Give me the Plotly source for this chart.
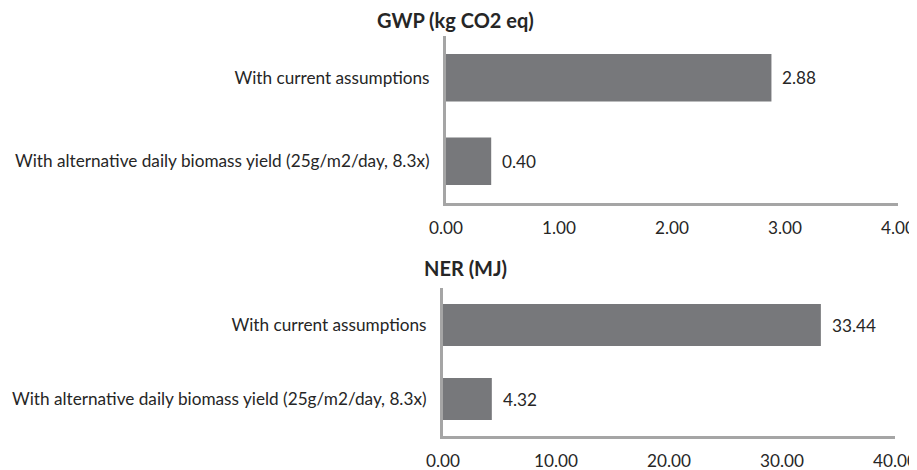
import plotly.graph_objects as go

categories = ["With current assumptions",
              "With alternative daily biomass yield (25g/m2/day, 8.3x)"]
gwp_values = [2.88, 0.40]
ner_values = [33.44, 4.32]
gwp_ticks = [0, 1, 2, 3, 4]
ner_ticks = [0, 10, 20, 30, 40]
gwp_title = "GWP (kg CO2 eq)"
ner_title = "NER (MJ)"

BAR = "#77787b"
AXIS = "#a5a5a5"
TXT = "#262626"
FONT = "Lato"
FS = 17.2

# page body has an 8px default margin; the figure is sized to fill the rest
OFF = 8
W, H = 917 - OFF, 470 - OFF


def px(x):
    return (x - OFF) / W


def py(y):
    return 1 - (y - OFF) / H


fig = go.Figure()
fig.add_trace(go.Bar(y=categories, x=gwp_values, orientation="h",
                     marker=dict(color=BAR, line=dict(width=0)),
                     xaxis="x", yaxis="y", showlegend=False, hoverinfo="skip"))
fig.add_trace(go.Bar(y=categories, x=ner_values, orientation="h",
                     marker=dict(color=BAR, line=dict(width=0)),
                     xaxis="x2", yaxis="y2", showlegend=False, hoverinfo="skip"))

annotations = []
for c, v in zip(categories, gwp_values):
    annotations.append(dict(x=v, y=c, xref="x", yref="y", text=f"{v:.2f}",
                            showarrow=False, xanchor="left", xshift=9,
                            font=dict(size=FS, color=TXT, family=FONT)))
for c, v in zip(categories, ner_values):
    annotations.append(dict(x=v, y=c, xref="x2", yref="y2", text=f"{v:.2f}",
                            showarrow=False, xanchor="left", xshift=9,
                            font=dict(size=FS, color=TXT, family=FONT)))
annotations.append(dict(x=px(455), y=py(8), xref="paper", yref="paper",
                        text=f"<b>{gwp_title}</b>", showarrow=False,
                        xanchor="center", yanchor="top", yshift=2,
                        font=dict(size=20, color=TXT, family=FONT)))
annotations.append(dict(x=px(465), y=py(268), xref="paper", yref="paper",
                        text=f"<b>{ner_title}</b>", showarrow=False,
                        xanchor="center", yanchor="middle",
                        font=dict(size=20, color=TXT, family=FONT)))

xcommon = dict(showgrid=False, zeroline=False, showline=True, linecolor=AXIS,
               linewidth=3, ticks="", ticklabelstandoff=7, automargin=False,
               tickfont=dict(size=FS, color=TXT, family=FONT))
ycommon = dict(showgrid=False, zeroline=False, showline=True, linecolor=AXIS,
               linewidth=3, ticks="", autorange="reversed", ticklabelstandoff=10,
               automargin=False,
               tickfont=dict(size=FS, color=TXT, family=FONT))

fig.update_layout(
    width=W, height=H,
    margin=dict(l=0, r=0, t=0, b=0, pad=0, autoexpand=False),
    paper_bgcolor="white", plot_bgcolor="white",
    bargap=0.43,
    font=dict(family=FONT, color=TXT),
    xaxis=dict(domain=[px(446), px(898)], range=[0, 4], tickvals=gwp_ticks,
               ticktext=[f"{t:.2f}" for t in gwp_ticks], anchor="y", **xcommon),
    yaxis=dict(domain=[py(203), py(36)], anchor="x", **ycommon),
    xaxis2=dict(domain=[px(443), px(895)], range=[0, 40], tickvals=ner_ticks,
                ticktext=[f"{t:.2f}" for t in ner_ticks], anchor="y2", **xcommon),
    yaxis2=dict(domain=[py(436), py(288)], anchor="x2", **ycommon),
    annotations=annotations,
)

fig.write_html("out.html")
